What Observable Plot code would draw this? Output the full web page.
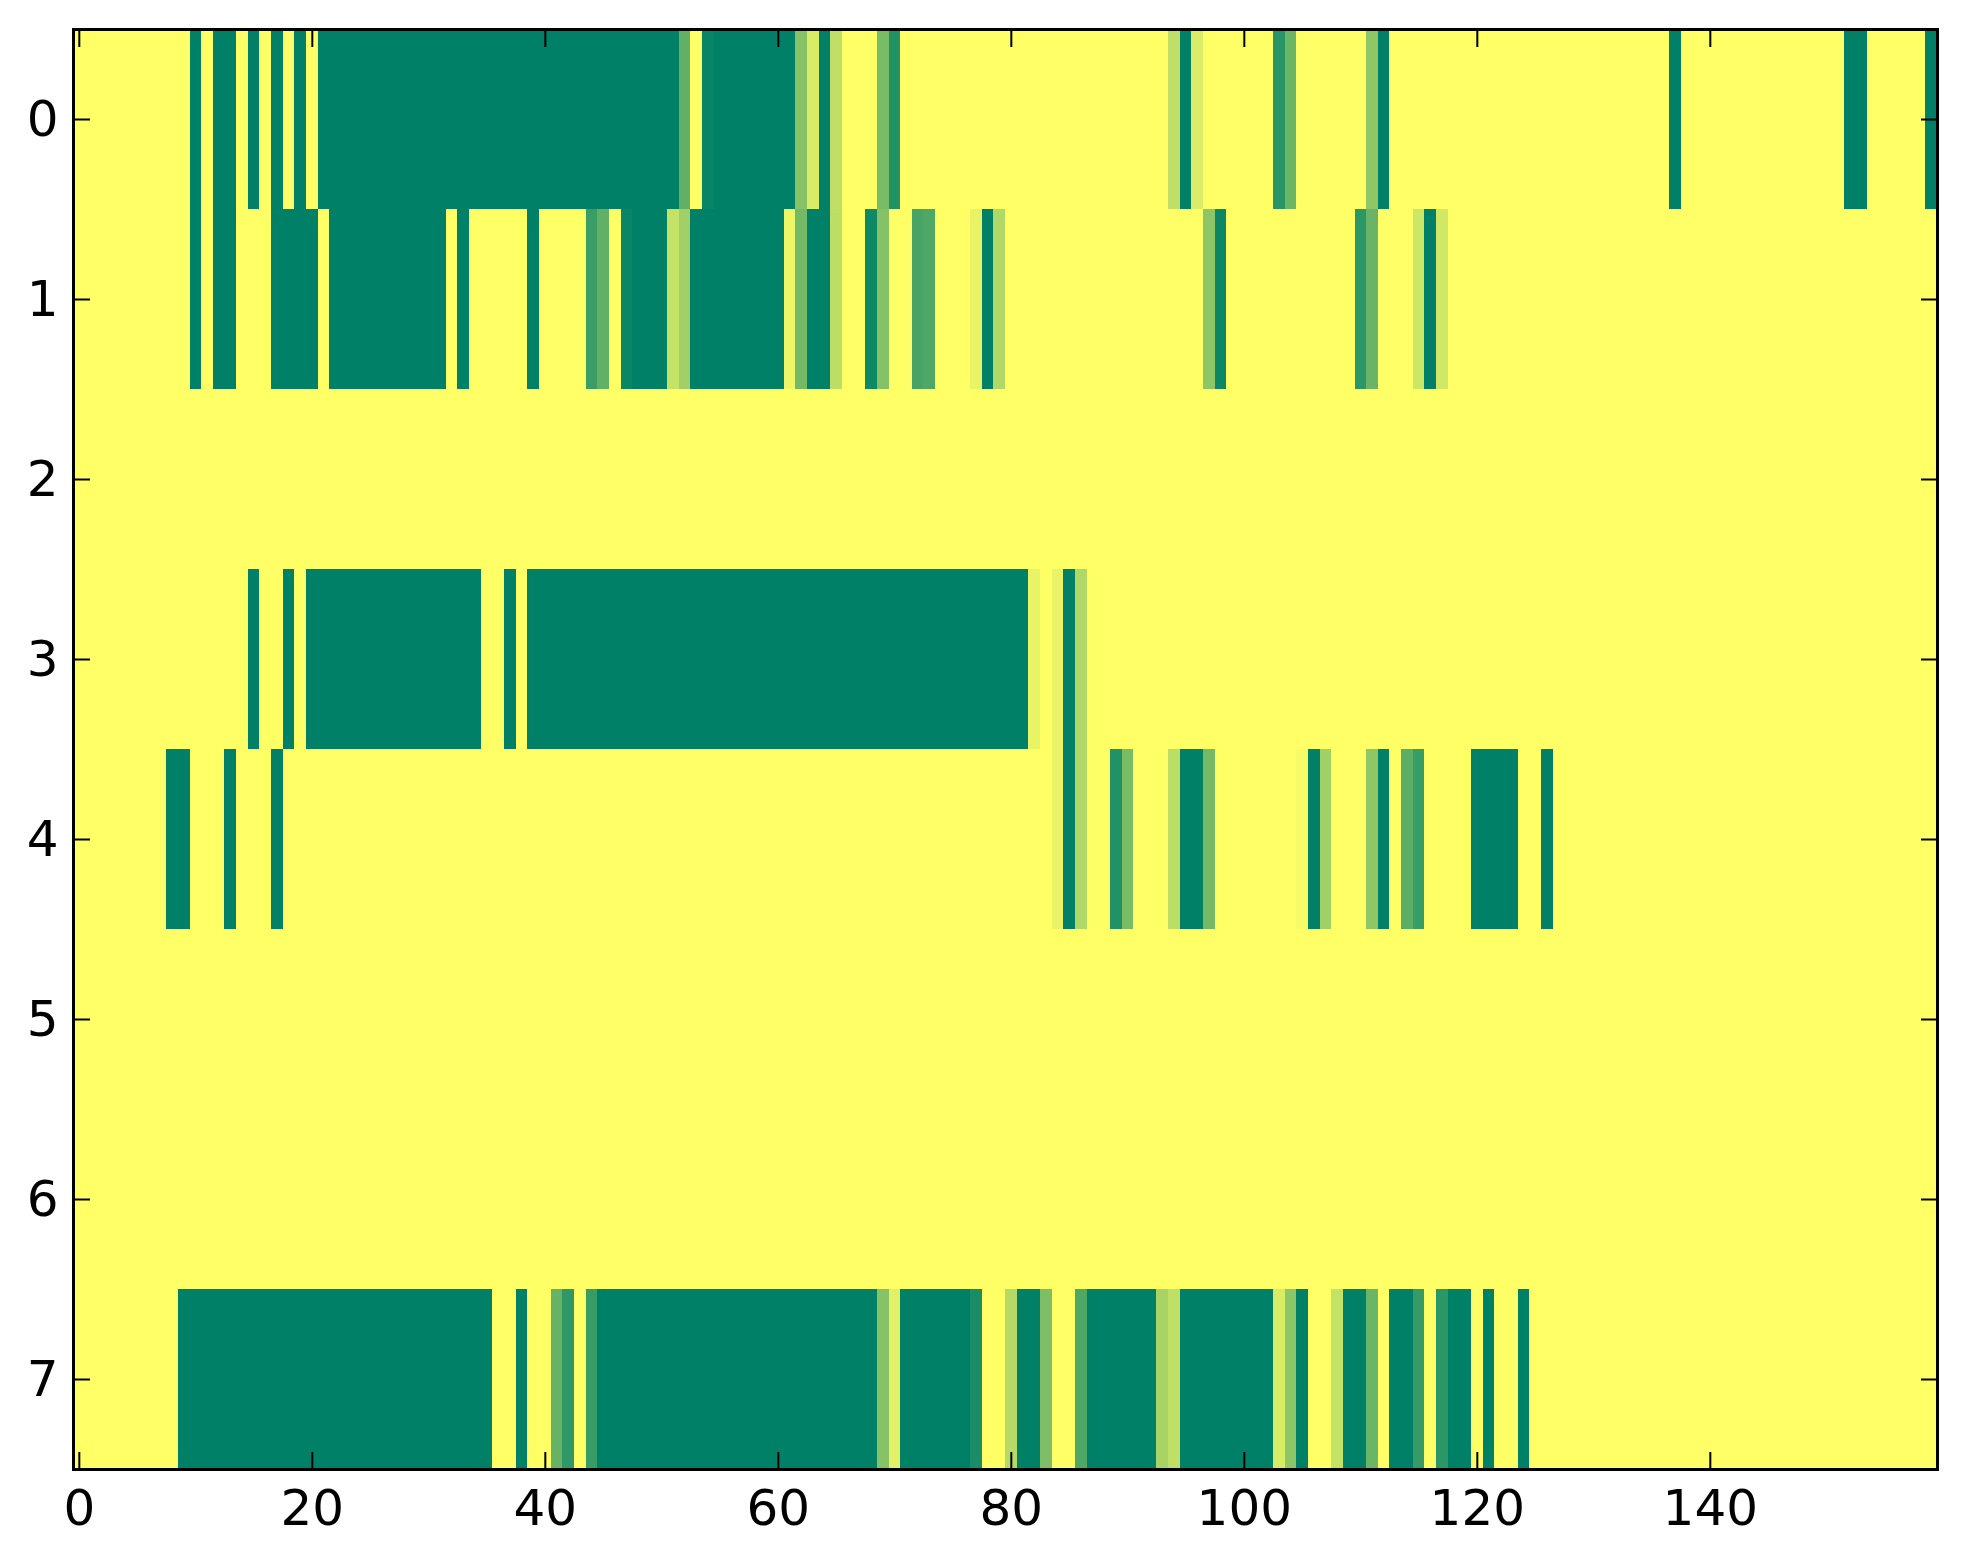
<!DOCTYPE html>
<html>
<head>
<meta charset="utf-8">
<script src="https://cdn.jsdelivr.net/npm/d3@7"></script>
<script src="https://cdn.jsdelivr.net/npm/@observablehq/plot@0.6"></script>
<style>
  html, body { margin: 0; padding: 0; background: #ffffff; }
  #chart svg { display: block; }
</style>
</head>
<body>
<div id="chart"></div>
<script>
// Heatmap values (0 = dark green, 1 = yellow), one array per row, 160 columns each
const row0 = [1,1,1,1,1,1,1,1,1,1, 0,1,0,0,1,0,1,0,1,0, 1,0,0,0,0,0,0,0,0,0, 0,0,0,0,0,0,0,0,0,0, 0,0,0,0,0,0,0,0,0,0, 0,0,0.38,1,0.03,0,0,0,0,0, 0,0,0.53,0.85,0,0.75,1,1,1,0.47, 0.13,1,1,1,1,1,1,1,1,1, 1,1,1,1,1,1,1,1,1,1, 1,1,1,1,0.75,0,0.86,1,1,1, 1,1,1,0.16,0.42,1,1,1,1,1, 1,0.56,0,1,1,1,1,1,1,1, 1,1,1,1,1,1,1,1,1,1, 1,1,1,1,1,1,1,0,1,1, 1,1,1,1,1,1,1,1,1,1, 1,1,0,0,1,1,1,1,1,0];
const row1 = [1,1,1,1,1,1,1,1,1,1, 0,1,0,0,1,1,1,0,0,0, 0,1,0,0,0,0,0,0,0,0, 0,0,1,0,1,1,1,1,1,0, 1,1,1,1,0.23,0.38,1,0.04,0,0, 0,0.77,0.63,0,0,0,0,0,0,0, 0,0.93,0.45,0,0,0.74,1,1,0.06,0.52, 1,1,0.28,0.31,1,1,1,0.91,0,0.69, 1,1,1,1,1,1,1,1,1,1, 1,1,1,1,1,1,1,0.55,0.05,1, 1,1,1,1,1,1,1,1,1,1, 0.17,0.41,1,1,1,0.8,0,0.82,1,1, 1,1,1,1,1,1,1,1,1,1, 1,1,1,1,1,1,1,1,1,1, 1,1,1,1,1,1,1,1,1,1, 1,1,1,1,1,1,1,1,1,1];
const row2 = [1,1,1,1,1,1,1,1,1,1, 1,1,1,1,1,1,1,1,1,1, 1,1,1,1,1,1,1,1,1,1, 1,1,1,1,1,1,1,1,1,1, 1,1,1,1,1,1,1,1,1,1, 1,1,1,1,1,1,1,1,1,1, 1,1,1,1,1,1,1,1,1,1, 1,1,1,1,1,1,1,1,1,1, 1,1,1,1,1,1,1,1,1,1, 1,1,1,1,1,1,1,1,1,1, 1,1,1,1,1,1,1,1,1,1, 1,1,1,1,1,1,1,1,1,1, 1,1,1,1,1,1,1,1,1,1, 1,1,1,1,1,1,1,1,1,1, 1,1,1,1,1,1,1,1,1,1, 1,1,1,1,1,1,1,1,1,1];
const row3 = [1,1,1,1,1,1,1,1,1,1, 1,1,1,1,1,0,1,1,0,1, 0,0,0,0,0,0,0,0,0,0, 0,0,0,0,0,1,1,0,1,0, 0,0,0,0,0,0,0,0,0,0, 0,0,0,0,0,0,0,0,0,0, 0,0,0,0,0,0,0,0,0,0, 0,0,0,0,0,0,0,0,0,0, 0,0,0.91,1,0.91,0,0.69,1,1,1, 1,1,1,1,1,1,1,1,1,1, 1,1,1,1,1,1,1,1,1,1, 1,1,1,1,1,1,1,1,1,1, 1,1,1,1,1,1,1,1,1,1, 1,1,1,1,1,1,1,1,1,1, 1,1,1,1,1,1,1,1,1,1, 1,1,1,1,1,1,1,1,1,1];
const row4 = [1,1,1,1,1,1,1,1,0,0, 1,1,1,0,1,1,1,0,1,1, 1,1,1,1,1,1,1,1,1,1, 1,1,1,1,1,1,1,1,1,1, 1,1,1,1,1,1,1,1,1,1, 1,1,1,1,1,1,1,1,1,1, 1,1,1,1,1,1,1,1,1,1, 1,1,1,1,1,1,1,1,1,1, 1,1,1,1,0.91,0,0.69,1,1,0.13, 0.47,1,1,1,0.74,0,0,0.45,1,1, 1,1,1,1,1,0.97,0,0.63,1,1, 1,0.56,0,1,0.36,0.22,1,1,1,1, 0,0,0,0,1,1,0,1,1,1, 1,1,1,1,1,1,1,1,1,1, 1,1,1,1,1,1,1,1,1,1, 1,1,1,1,1,1,1,1,1,1];
const row5 = [1,1,1,1,1,1,1,1,1,1, 1,1,1,1,1,1,1,1,1,1, 1,1,1,1,1,1,1,1,1,1, 1,1,1,1,1,1,1,1,1,1, 1,1,1,1,1,1,1,1,1,1, 1,1,1,1,1,1,1,1,1,1, 1,1,1,1,1,1,1,1,1,1, 1,1,1,1,1,1,1,1,1,1, 1,1,1,1,1,1,1,1,1,1, 1,1,1,1,1,1,1,1,1,1, 1,1,1,1,1,1,1,1,1,1, 1,1,1,1,1,1,1,1,1,1, 1,1,1,1,1,1,1,1,1,1, 1,1,1,1,1,1,1,1,1,1, 1,1,1,1,1,1,1,1,1,1, 1,1,1,1,1,1,1,1,1,1];
const row6 = [1,1,1,1,1,1,1,1,1,1, 1,1,1,1,1,1,1,1,1,1, 1,1,1,1,1,1,1,1,1,1, 1,1,1,1,1,1,1,1,1,1, 1,1,1,1,1,1,1,1,1,1, 1,1,1,1,1,1,1,1,1,1, 1,1,1,1,1,1,1,1,1,1, 1,1,1,1,1,1,1,1,1,1, 1,1,1,1,1,1,1,1,1,1, 1,1,1,1,1,1,1,1,1,1, 1,1,1,1,1,1,1,1,1,1, 1,1,1,1,1,1,1,1,1,1, 1,1,1,1,1,1,1,1,1,1, 1,1,1,1,1,1,1,1,1,1, 1,1,1,1,1,1,1,1,1,1, 1,1,1,1,1,1,1,1,1,1];
const row7 = [1,1,1,1,1,1,1,1,1,0, 0,0,0,0,0,0,0,0,0,0, 0,0,0,0,0,0,0,0,0,0, 0,0,0,0,0,0,1,1,0,1, 1,0.4,0.19,1,0.22,0,0,0,0,0, 0,0,0,0,0,0,0,0,0,0, 0,0,0,0,0,0,0,0,0,0.53, 0.89,0,0,0,0,0,0,0.1,1,1, 0.71,0,0,0.49,1,1,0.31,0,0,0, 0,0,0,0.66,0.75,0,0,0,0,0, 0,0,0,0.85,0.55,0,1,1,0.77,0, 0,0.42,1,0,0,0.21,1,0.17,0,0, 1,0,1,1,0,1,1,1,1,1, 1,1,1,1,1,1,1,1,1,1, 1,1,1,1,1,1,1,1,1,1, 1,1,1,1,1,1,1,1,1,1];

const rows = [row0, row1, row2, row3, row4, row5, row6, row7];
const rowLabels = [0, 1, 2, 3, 4, 5, 6, 7];
const columns = d3.range(160);
const xTicks = [0, 20, 40, 60, 80, 100, 120, 140];
const yTicks = [0, 1, 2, 3, 4, 5, 6, 7];

const cells = [];
rows.forEach((r, i) => r.forEach((v, j) => cells.push({col: j, row: rowLabels[i], value: v})));

const font = "DejaVu Sans, sans-serif";
const chart = Plot.plot({
  width: 1963,
  height: 1564,
  marginLeft: 73,
  marginRight: 26,
  marginTop: 29,
  marginBottom: 95,
  style: {background: "#ffffff", fontFamily: font, fontSize: "50px", color: "#000000"},
  x: {type: "band", domain: columns, padding: 0, label: null},
  y: {type: "band", domain: rowLabels, padding: 0, label: null},
  color: {type: "linear", domain: [0, 1], range: ["#008066", "#ffff66"], interpolate: "rgb"},
  marks: [
    Plot.cell(cells, {x: "col", y: "row", fill: "value", shapeRendering: "crispEdges"}),
    // labels
    Plot.axisX({anchor: "bottom", ticks: xTicks, tickSize: 0, tickPadding: 20, fontSize: 50, fill: "#000", label: null}),
    Plot.axisY({anchor: "left", ticks: yTicks, tickSize: 0, tickPadding: 15, fontSize: 50, fill: "#000", label: null}),
    // inward ticks on all four sides
    Plot.axisX({anchor: "bottom", ticks: xTicks, tickSize: -17, strokeWidth: 2, tickFormat: () => "", label: null}),
    Plot.axisX({anchor: "top", ticks: xTicks, tickSize: -17, strokeWidth: 2, tickFormat: () => "", label: null}),
    Plot.axisY({anchor: "left", ticks: yTicks, tickSize: -17, strokeWidth: 2, tickFormat: () => "", label: null}),
    Plot.axisY({anchor: "right", ticks: yTicks, tickSize: -17, strokeWidth: 2, tickFormat: () => "", label: null}),
    Plot.frame({stroke: "#000", strokeWidth: 3})
  ]
});
document.getElementById("chart").appendChild(chart);
</script>
</body>
</html>
